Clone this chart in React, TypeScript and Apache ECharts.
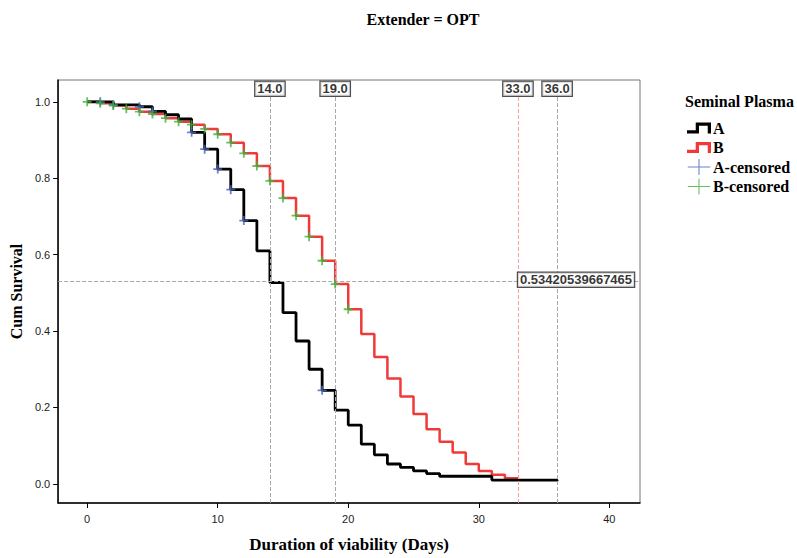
import React, { useEffect, useRef } from 'react';
import * as echarts from 'echarts';

// Kaplan-Meier step data (day at which level starts, cumulative survival)
const daysA = [0, 2, 4, 5, 6, 7, 8, 9, 10, 11, 12, 13, 14, 15, 16, 17, 18, 19, 20, 21, 22, 23, 24, 25, 26, 27, 31, 36];
const survA = [1.0, 0.992, 0.987, 0.975, 0.966, 0.955, 0.92, 0.876, 0.824, 0.77, 0.689, 0.61, 0.527, 0.448, 0.374, 0.3, 0.245, 0.193, 0.154, 0.104, 0.076, 0.052, 0.043, 0.034, 0.027, 0.02, 0.01, 0.007];

const daysB = [0, 1, 2, 3, 4, 5, 6, 7, 8, 9, 10, 11, 12, 13, 14, 15, 16, 17, 18, 19, 20, 21, 22, 23, 24, 25, 26, 27, 28, 29, 30, 31, 32, 33];
const survB = [1.0, 0.996, 0.99, 0.982, 0.974, 0.968, 0.957, 0.948, 0.94, 0.929, 0.915, 0.893, 0.865, 0.832, 0.793, 0.748, 0.702, 0.647, 0.584, 0.523, 0.457, 0.392, 0.332, 0.276, 0.229, 0.183, 0.143, 0.11, 0.082, 0.052, 0.034, 0.024, 0.015, 0.01];

// censored observation days
const censoredA = [1, 2, 4, 5, 8, 9, 10, 11, 12, 18];
const censoredB = [0, 1, 2, 3, 4, 5, 6, 7, 8, 9, 10, 11, 12, 13, 14, 15, 16, 17, 18, 19, 20];

// reference lines
const refX = [14, 19, 33, 36];
const refY = [0.53420539667465];

const xTicks = [0, 10, 20, 30, 40];
const yTicks = [0, 0.2, 0.4, 0.6, 0.8, 1.0];

const SERIF = '"Liberation Serif", "Times New Roman", serif';
const SANS = '"Liberation Sans", Arial, sans-serif';

function levelAt(days: number[], surv: number[], t: number) {
  let v = surv[0];
  for (let i = 0; i < days.length; i++) if (days[i] <= t) v = surv[i];
  return v;
}

const PLUS = 'path://M4,0H6V4H10V6H6V10H4V6H0V4H4Z';
const PLUS_THIN = 'path://M10,0H11V7H21V8H11V15H10V8H0V7H10Z';
const STEP = 'path://M0,7H8V0H22V10H19V3H11V10H0Z';

export default function App() {
  const ref = useRef<HTMLDivElement>(null);
  useEffect(() => {
    if (!ref.current) return;
    const chart = echarts.init(ref.current, null, { renderer: 'svg' });
    const labelBox = {
      show: true,
      fontFamily: SANS,
      fontWeight: 'bold',
      fontSize: 13,
      color: '#000',
      backgroundColor: '#fff',
      borderColor: '#222',
      borderWidth: 1.2,
      padding: [0, 2, 0, 2],
      lineHeight: 14,
    };
    const option: any = {
      animation: false,
      backgroundColor: '#fff',
      title: [
        {
          text: 'Extender = OPT',
          left: 418,
          textAlign: 'center',
          top: 6,
          textStyle: { fontFamily: SERIF, fontWeight: 'bold', fontSize: 16, color: '#000' },
        },
        {
          text: 'Seminal Plasma',
          left: 680,
          top: 88,
          textStyle: { fontFamily: SERIF, fontWeight: 'bold', fontSize: 16, color: '#000' },
        },
      ],
      legend: {
        orient: 'vertical',
        left: 682,
        top: 115,
        itemWidth: 24,
        itemHeight: 16,
        itemGap: 3.5,
        selectedMode: false,
        textStyle: { fontFamily: SERIF, fontWeight: 'bold', fontSize: 16, color: '#000', padding: [0, 0, 0, -3] },
        data: [
          { name: 'A', icon: STEP },
          { name: 'B', icon: STEP },
          { name: 'A-censored', icon: PLUS_THIN },
          { name: 'B-censored', icon: PLUS_THIN },
        ],
      },
      grid: {
        left: 58,
        right: 157,
        top: 80,
        bottom: 55,
        show: true,
        borderColor: '#777',
        borderWidth: 1,
        backgroundColor: '#fff',
      },
      xAxis: {
        type: 'value',
        min: -2.22,
        max: 42.35,
        name: 'Duration of viability (Days)',
        nameLocation: 'middle',
        nameGap: 33,
        nameTextStyle: { fontFamily: SERIF, fontWeight: 'bold', fontSize: 17, color: '#000' },
        splitLine: { show: false },
        axisLine: { show: true, onZero: false, lineStyle: { color: '#000', width: 1.5 } },
        axisTick: { show: true, customValues: xTicks, length: 5, lineStyle: { color: '#000' } },
        axisLabel: { customValues: xTicks, margin: 10, fontFamily: SANS, fontSize: 11, color: '#222', formatter: (v: number) => String(v) },
      },
      yAxis: {
        type: 'value',
        min: -0.05,
        max: 1.057,
        name: 'Cum Survival',
        nameLocation: 'middle',
        nameGap: 32,
        nameTextStyle: { fontFamily: SERIF, fontWeight: 'bold', fontSize: 16, color: '#000' },
        splitLine: { show: false },
        axisLine: { show: true, onZero: false, lineStyle: { color: '#000', width: 1.5 } },
        axisTick: { show: true, customValues: yTicks, length: 5, lineStyle: { color: '#000' } },
        axisLabel: { customValues: yTicks, margin: 8, fontFamily: SANS, fontSize: 11, color: '#222', formatter: (v: number) => v.toFixed(1) },
      },
      series: [
        {
          name: 'refLines',
          type: 'line',
          symbol: 'none',
          silent: true,
          z: 1,
          data: [],
          markLine: {
            silent: true,
            symbol: ['none', 'none'],
            label: { show: false },
            lineStyle: { type: 'dashed', color: '#a8a8a8', width: 1 },
            emphasis: { disabled: true },
            data: [
              ...refX.map((x) => ({
                xAxis: x,
                lineStyle: { type: 'dashed', width: 1, color: x === 33 ? '#f2a0a0' : '#a8a8a8' },
              })),
              ...refY.map((y) => ({ yAxis: y, lineStyle: { type: 'dashed', width: 1, color: '#a8a8a8' } })),
            ],
          },
        },
        {
          name: 'B',
          type: 'line',
          step: 'end',
          symbol: 'none',
          z: 2,
          itemStyle: { color: '#f03a3a' },
          lineStyle: { color: '#f03a3a', width: 2.5 },
          data: daysB.map((d, i) => [d, survB[i]]),
        },
        {
          name: 'A',
          type: 'line',
          step: 'end',
          symbol: 'none',
          z: 3,
          itemStyle: { color: '#000' },
          lineStyle: { color: '#000', width: 2.8 },
          data: daysA.map((d, i) => [d, survA[i]]),
        },
        {
          name: 'A-censored',
          type: 'scatter',
          symbol: PLUS,
          symbolSize: 9,
          z: 4,
          itemStyle: { color: '#4763b5' },
          data: censoredA.map((d) => [d, levelAt(daysA, survA, d)]),
        },
        {
          name: 'B-censored',
          type: 'scatter',
          symbol: PLUS,
          symbolSize: 9,
          z: 5,
          itemStyle: { color: '#3db33d' },
          data: censoredB.map((d) => [d, levelAt(daysB, survB, d)]),
        },
        {
          name: 'refXLabels',
          type: 'scatter',
          symbolSize: 0.1,
          z: 10,
          silent: true,
          itemStyle: { color: 'rgba(0,0,0,0)' },
          label: { ...labelBox, position: 'inside', formatter: (p: any) => p.value[0].toFixed(1) },
          data: refX.map((x) => [x, 1.034]),
        },
        {
          name: 'refYLabels',
          type: 'scatter',
          symbolSize: 0.1,
          z: 10,
          silent: true,
          itemStyle: { color: 'rgba(0,0,0,0)' },
          label: { ...labelBox, position: 'right', distance: 0, formatter: (p: any) => String(p.value[1]) },
          data: refY.map((y) => [33, y]),
        },
      ],
    };
    chart.setOption(option);
    return () => chart.dispose();
  }, []);
  return (
    <div
      ref={ref}
      style={{ position: 'fixed', left: 0, top: 0, width: 797, height: 558, background: '#fff' }}
    />
  );
}
